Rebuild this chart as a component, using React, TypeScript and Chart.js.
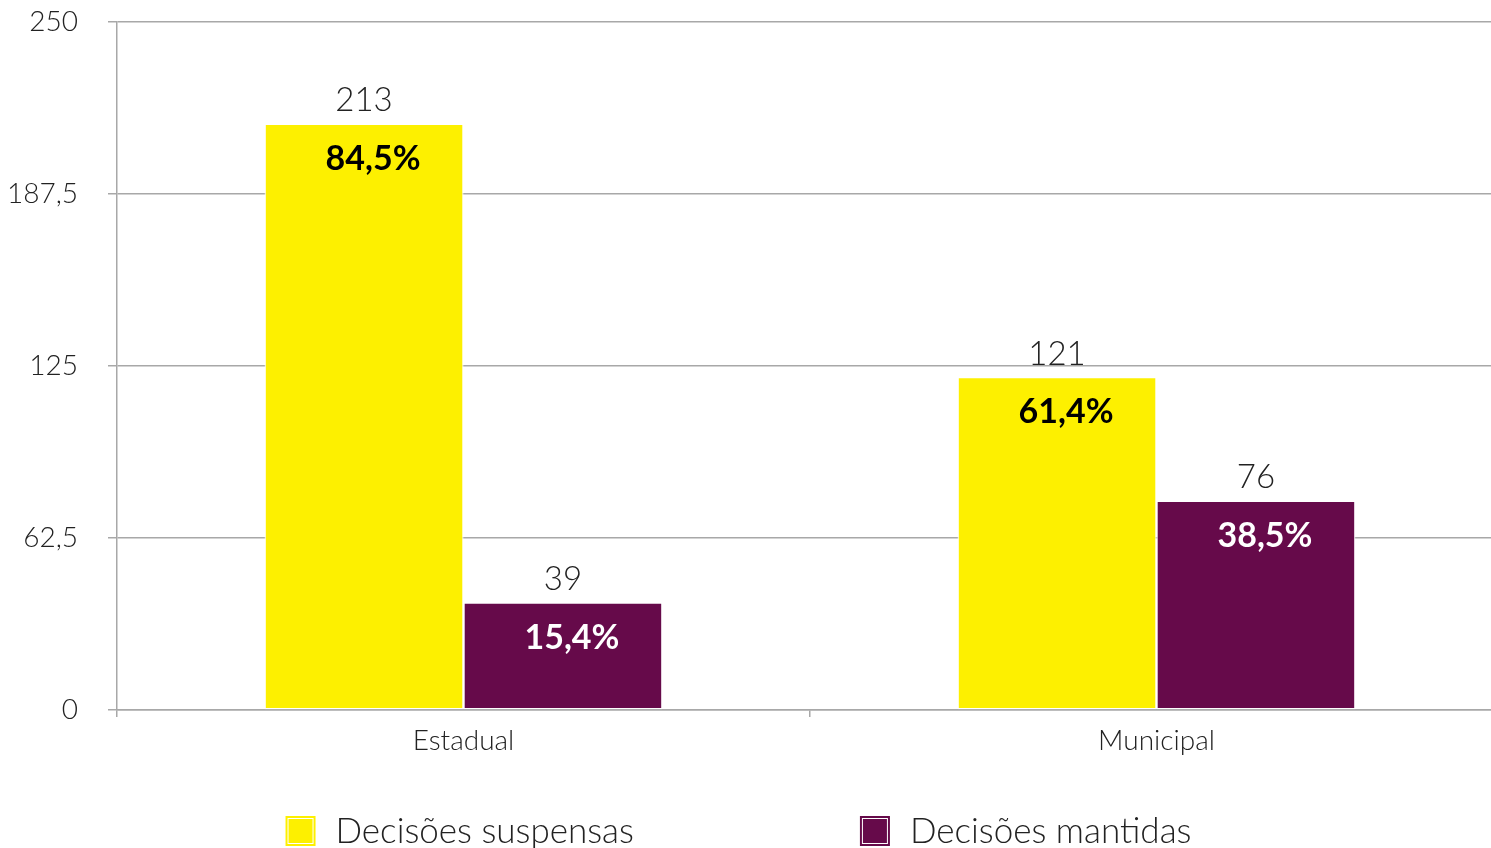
import React, { useEffect, useRef } from "react";
import { Chart, registerables } from "chart.js";

Chart.register(...registerables);

const categories = ["Estadual", "Municipal"];
const seriesNames = ["Decisões suspensas", "Decisões mantidas"];
const suspensas = [213, 121];
const mantidas = [39, 76];
const suspensasPct = ["84,5%", "61,4%"];
const mantidasPct = ["15,4%", "38,5%"];
const yTickValues = [0, 62.5, 125, 187.5, 250];
const yTickLabels = ["0", "62,5", "125", "187,5", "250"];

const YELLOW = "#FDF000";
const PURPLE = "#660A4A";
const FONT = "Lato, 'Open Sans', sans-serif";
const TEXT = "#222222";
const GRID = "#a8a8a8";

const pctLabels = [suspensasPct, mantidasPct];
const colors = [YELLOW, PURPLE];
const pctColors = ["#000000", "#ffffff"];

const VIEW_W = 1491;
const CANVAS_W = 1503;
const H = 848;

const labelPlugin = {
  id: "barLabels",
  afterDatasetsDraw(chart: any) {
    const ctx = chart.ctx;
    ctx.save();
    chart.data.datasets.forEach((ds: any, di: number) => {
      const meta = chart.getDatasetMeta(di);
      meta.data.forEach((bar: any, i: number) => {
        ctx.textAlign = "center";
        ctx.textBaseline = "middle";
        ctx.fillStyle = TEXT;
        ctx.font = `300 33px ${FONT}`;
        ctx.fillText(String(ds.data[i]), bar.x, bar.y - 23);
        ctx.fillStyle = pctColors[di];
        ctx.font = `700 34px ${FONT}`;
        ctx.fillText(pctLabels[di][i], bar.x + 9, bar.y + 35);
      });
    });
    ctx.restore();
  },
};

const legendPlugin = {
  id: "customLegend",
  afterDraw(chart: any) {
    const ctx = chart.ctx;
    ctx.save();
    ctx.font = `300 35px ${FONT}`;
    const box = 30;
    const gapText = 20;
    const gapItems = 226;
    const widths = chart.data.datasets.map(
      (ds: any) => box + gapText + ctx.measureText(ds.label).width
    );
    const total = widths.reduce((a: number, b: number) => a + b, 0) + gapItems * (widths.length - 1);
    let x = VIEW_W / 2 - 7 - total / 2;
    const cy = 831;
    chart.data.datasets.forEach((ds: any, di: number) => {
      ctx.fillStyle = ds.backgroundColor;
      ctx.fillRect(x, cy - box / 2, box, box);
      ctx.strokeStyle = "#ffffff";
      ctx.lineWidth = 1;
      ctx.strokeRect(x + 2.5, cy - box / 2 + 2.5, box - 5, box - 5);
      ctx.fillStyle = TEXT;
      ctx.textAlign = "left";
      ctx.textBaseline = "middle";
      ctx.fillText(ds.label, x + box + gapText, cy + 1);
      x += widths[di] + gapItems;
    });
    ctx.restore();
  },
};

export default function App() {
  const ref = useRef<HTMLCanvasElement>(null);
  useEffect(() => {
    if (!ref.current) return;
    const chart = new Chart(ref.current, {
      type: "bar",
      data: {
        labels: categories,
        datasets: [
          {
            label: seriesNames[0],
            data: suspensas,
            backgroundColor: colors[0],
            borderColor: "#ffffff",
            borderWidth: 1.2,
            borderSkipped: false,
          },
          {
            label: seriesNames[1],
            data: mantidas,
            backgroundColor: colors[1],
            borderColor: "#ffffff",
            borderWidth: 1.2,
            borderSkipped: false,
          },
        ],
      },
      options: {
        animation: false,
        responsive: false,
        devicePixelRatio: 1,
        layout: { padding: { top: 22, right: 0, bottom: 88, left: 0 } },
        datasets: { bar: { categoryPercentage: 0.574, barPercentage: 1 } },
        plugins: {
          legend: { display: false },
          tooltip: { enabled: false },
        },
        scales: {
          x: {
            grid: {
              display: true,
              drawOnChartArea: false,
              drawTicks: true,
              tickLength: 7,
              offset: true,
              color: GRID,
              lineWidth: 1.5,
            },
            border: { display: true, color: GRID, width: 1.5 },
            ticks: {
              color: TEXT,
              padding: 7,
              font: { family: FONT, size: 28, weight: "300" },
            },
            afterFit(scale: any) {
              scale.height = 50;
              scale.paddingLeft = 0;
              scale.paddingRight = 0;
            },
          },
          y: {
            min: 0,
            max: 250,
            afterBuildTicks(scale: any) {
              scale.ticks = yTickValues.map((v) => ({ value: v }));
            },
            ticks: {
              color: TEXT,
              padding: 30,
              font: { family: FONT, size: 28, weight: "300" },
              callback: (v: any) => {
                const idx = yTickValues.indexOf(Number(v));
                return idx >= 0 ? yTickLabels[idx] : "";
              },
            },
            grid: {
              color: GRID,
              lineWidth: 1.5,
              tickLength: 9,
              drawTicks: true,
            },
            border: { display: true, color: GRID, width: 1.5 },
            afterFit(scale: any) {
              scale.width = 117;
              scale.paddingTop = 0;
              scale.paddingBottom = 0;
            },
          },
        },
      } as any,
      plugins: [labelPlugin, legendPlugin],
    });
    return () => chart.destroy();
  }, []);
  return (
    <div
      style={{
        position: "absolute",
        left: 0,
        top: 0,
        width: VIEW_W,
        height: H,
        overflow: "hidden",
        background: "#fff",
      }}
    >
      <canvas ref={ref} width={CANVAS_W} height={H} style={{ width: CANVAS_W, height: H, display: "block" }} />
    </div>
  );
}
